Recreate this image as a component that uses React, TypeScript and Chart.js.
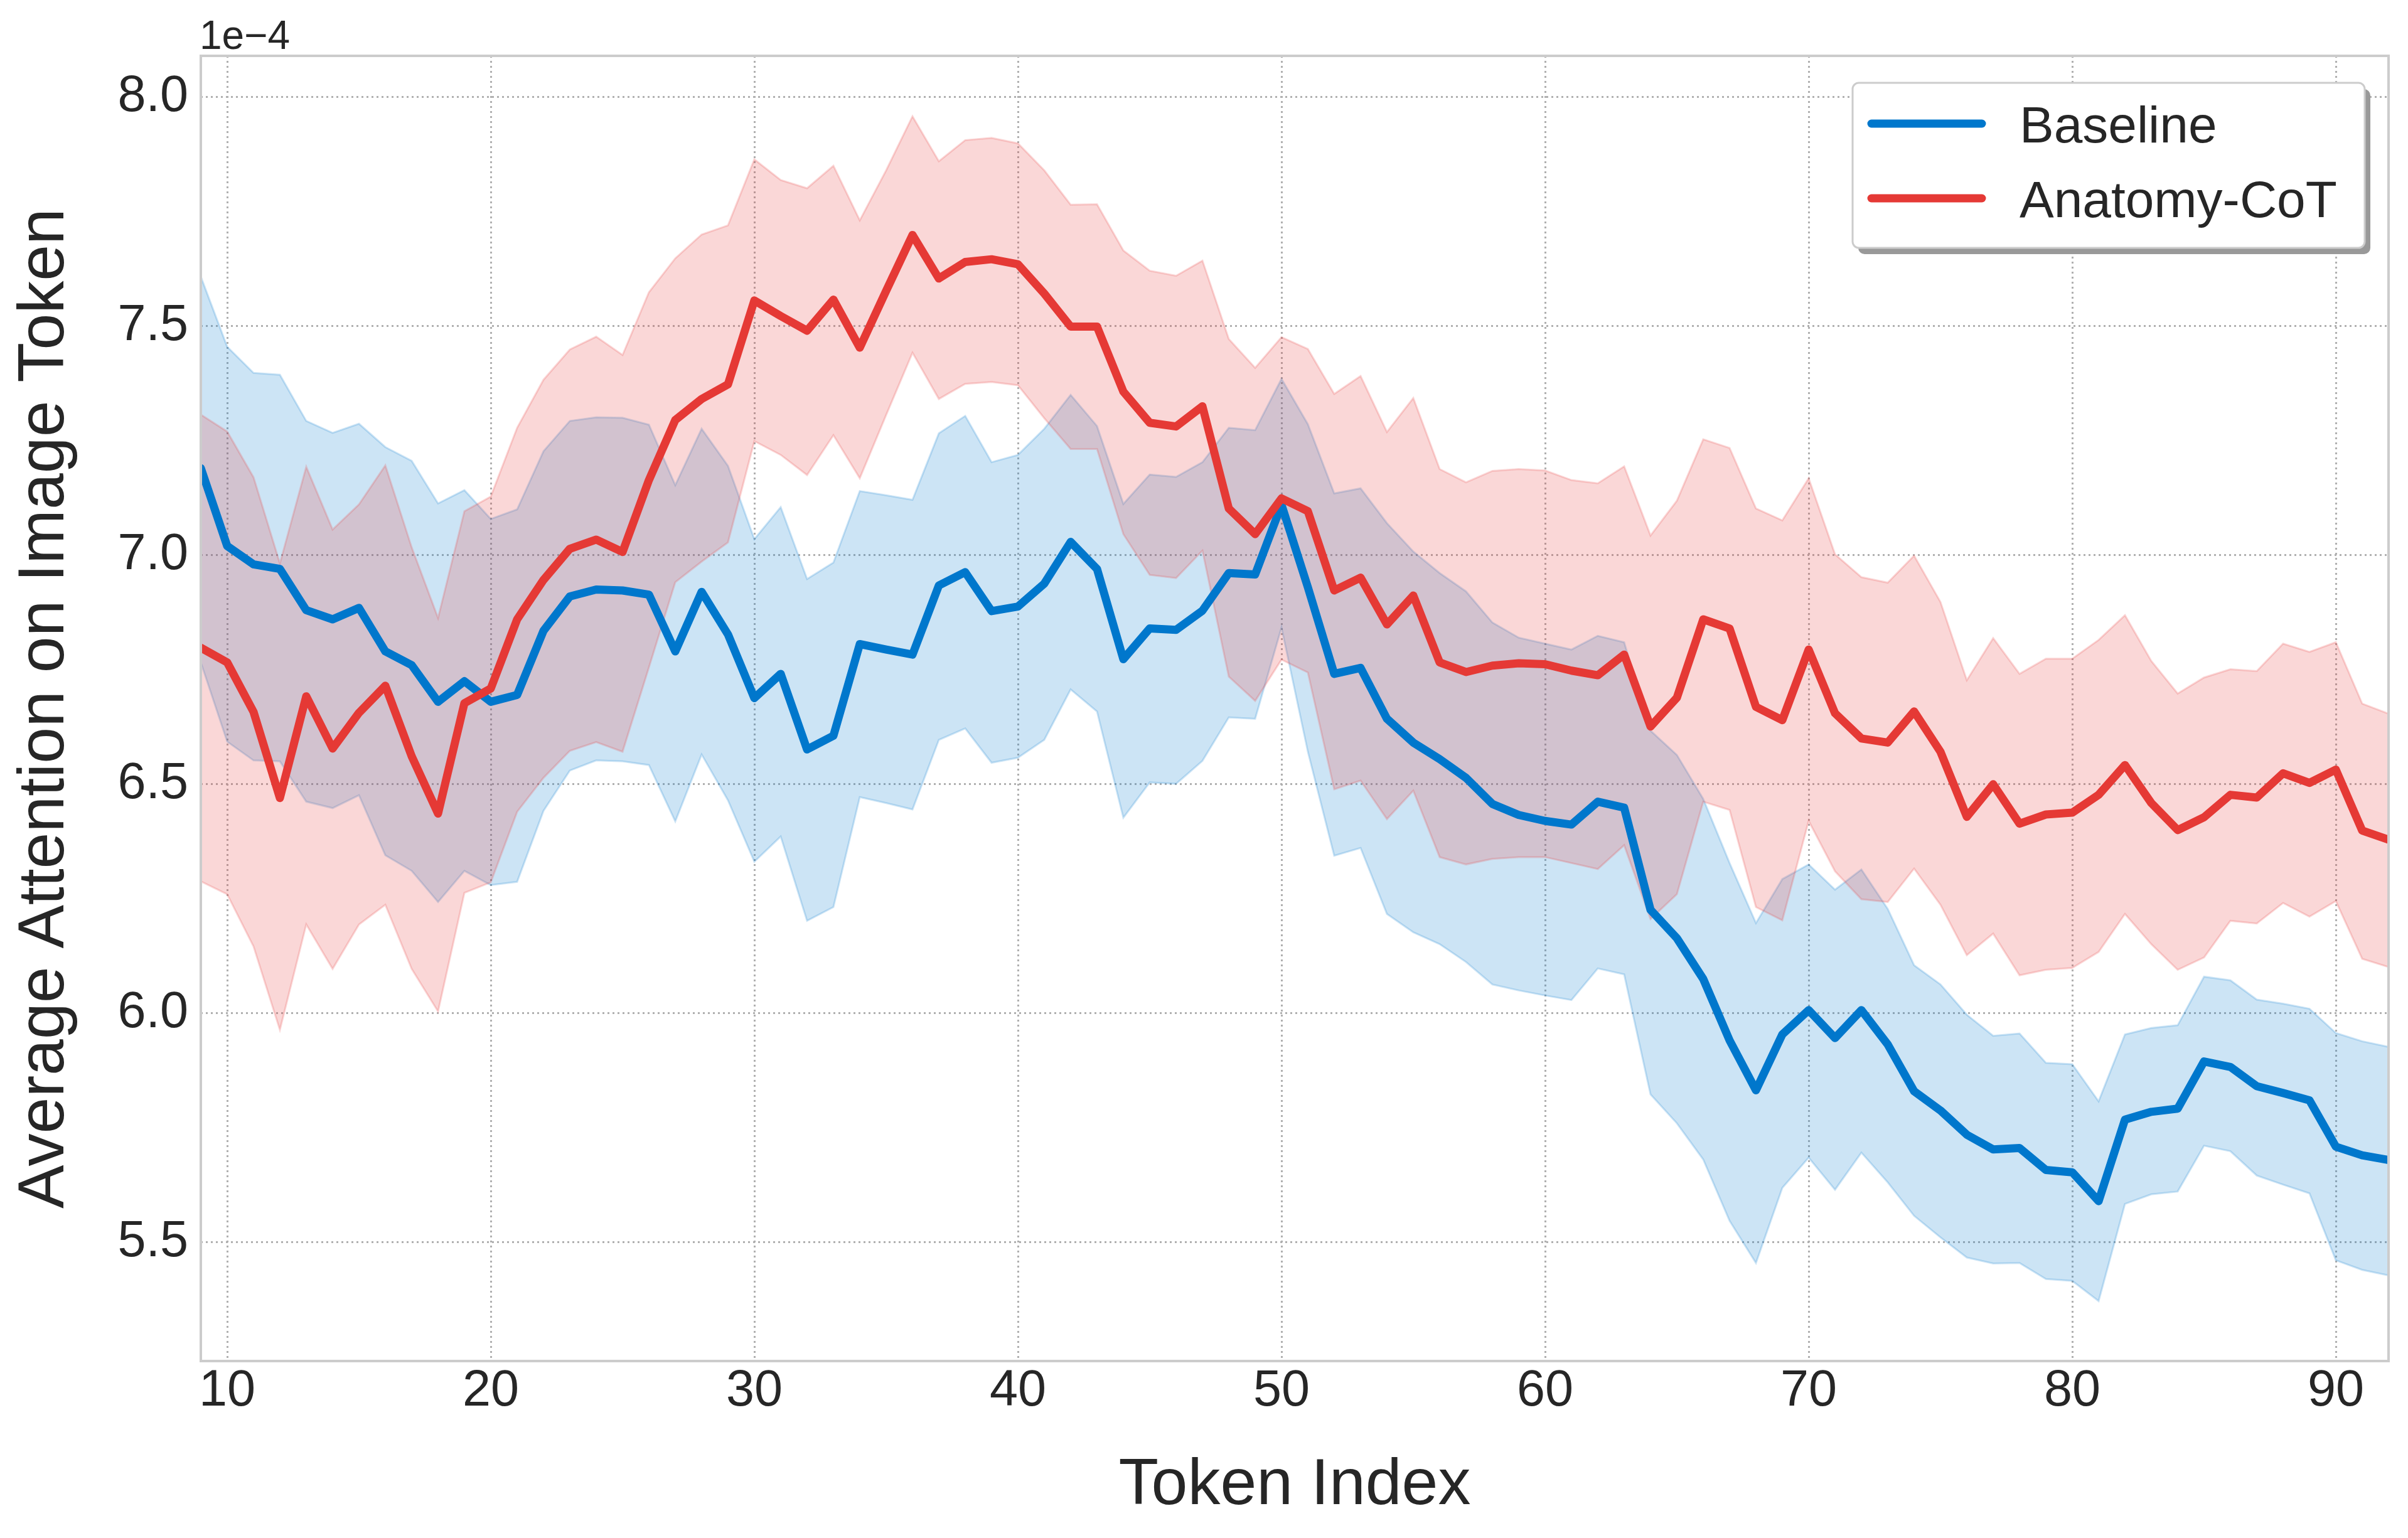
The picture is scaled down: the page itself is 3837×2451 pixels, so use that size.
import React, { useEffect, useRef } from "react";
import { Chart, registerables } from "chart.js";

Chart.register(...registerables);

const W = 3837;
const H = 2451;

// token positions along x
const TOKENS = [
  9, 10, 11, 12, 13, 14, 15, 16, 17, 18, 19, 20, 21, 22, 23, 24, 25, 26, 27, 28,
  29, 30, 31, 32, 33, 34, 35, 36, 37, 38, 39, 40, 41, 42, 43, 44, 45, 46, 47, 48,
  49, 50, 51, 52, 53, 54, 55, 56, 57, 58, 59, 60, 61, 62, 63, 64, 65, 66, 67, 68,
  69, 70, 71, 72, 73, 74, 75, 76, 77, 78, 79, 80, 81, 82, 83, 84, 85, 86, 87, 88,
  89, 90, 91, 92,
];

// values are in units of 1e-4
const BASELINE_MEAN = [
  7.19, 7.02, 6.98, 6.97, 6.88, 6.86, 6.885, 6.79, 6.76, 6.68, 6.725, 6.68, 6.695, 6.835, 6.91, 6.925, 6.923, 6.914, 6.79, 6.92,
  6.827, 6.688, 6.741, 6.576, 6.606, 6.806, 6.794, 6.783, 6.934, 6.963, 6.878, 6.888, 6.938, 7.029, 6.97, 6.773, 6.84, 6.837, 6.879, 6.961,
  6.958, 7.11, 6.93, 6.741, 6.754, 6.643, 6.591, 6.555, 6.514, 6.457, 6.433, 6.42, 6.412, 6.462, 6.449, 6.226, 6.164, 6.075, 5.941, 5.832,
  5.954, 6.007, 5.946, 6.007, 5.932, 5.83, 5.788, 5.735, 5.703, 5.706, 5.658, 5.653, 5.59, 5.768, 5.785, 5.792, 5.895, 5.883, 5.841, 5.826,
  5.81, 5.709, 5.69, 5.68,
];
const BASELINE_UPPER = [
  7.608, 7.455, 7.398, 7.394, 7.293, 7.267, 7.287, 7.236, 7.206, 7.113, 7.142, 7.079, 7.1, 7.227, 7.293, 7.301, 7.3, 7.285, 7.153, 7.276,
  7.195, 7.035, 7.105, 6.948, 6.984, 7.14, 7.131, 7.121, 7.266, 7.304, 7.203, 7.219, 7.276, 7.35, 7.282, 7.112, 7.176, 7.171, 7.203, 7.278,
  7.273, 7.385, 7.286, 7.135, 7.146, 7.07, 7.008, 6.961, 6.921, 6.853, 6.82, 6.807, 6.794, 6.824, 6.81, 6.617, 6.564, 6.468, 6.328, 6.197,
  6.293, 6.325, 6.27, 6.314, 6.228, 6.105, 6.063, 5.997, 5.951, 5.956, 5.892, 5.889, 5.808, 5.954, 5.968, 5.974, 6.08, 6.072, 6.03, 6.021,
  6.01, 5.957, 5.939, 5.927,
];
const BASELINE_LOWER = [
  6.766, 6.593, 6.552, 6.55, 6.462, 6.448, 6.476, 6.345, 6.311, 6.243, 6.311, 6.28, 6.287, 6.442, 6.53, 6.552, 6.55, 6.542, 6.419, 6.565,
  6.465, 6.331, 6.386, 6.202, 6.232, 6.472, 6.459, 6.445, 6.597, 6.622, 6.547, 6.558, 6.597, 6.707, 6.659, 6.427, 6.504, 6.501, 6.551, 6.646,
  6.643, 6.842, 6.571, 6.344, 6.361, 6.217, 6.177, 6.151, 6.112, 6.063, 6.05, 6.039, 6.029, 6.098, 6.085, 5.823, 5.76, 5.681, 5.547, 5.455,
  5.619, 5.685, 5.615, 5.696, 5.631, 5.558, 5.511, 5.467, 5.454, 5.455, 5.42, 5.416, 5.372, 5.584, 5.605, 5.611, 5.711, 5.699, 5.646, 5.626,
  5.607, 5.461, 5.44, 5.428,
];

const COT_MEAN = [
  6.798, 6.766, 6.658, 6.47, 6.692, 6.578, 6.656, 6.715, 6.561, 6.436, 6.677, 6.709, 6.86, 6.946, 7.014, 7.034, 7.007, 7.164, 7.295, 7.341,
  7.373, 7.556, 7.522, 7.49, 7.558, 7.453, 7.577, 7.699, 7.604, 7.64, 7.646, 7.635, 7.571, 7.499, 7.499, 7.357, 7.289, 7.281, 7.325, 7.102,
  7.046, 7.124, 7.096, 6.923, 6.951, 6.849, 6.912, 6.766, 6.745, 6.759, 6.764, 6.762, 6.748, 6.738, 6.783, 6.626, 6.689, 6.86, 6.84, 6.669,
  6.64, 6.794, 6.655, 6.6, 6.591, 6.659, 6.571, 6.429, 6.5, 6.414, 6.434, 6.438, 6.477, 6.542, 6.459, 6.4, 6.428, 6.477, 6.471, 6.524,
  6.503, 6.532, 6.399, 6.379,
];
const COT_UPPER = [
  7.307, 7.27, 7.17, 6.982, 7.193, 7.056, 7.111, 7.196, 7.017, 6.863, 7.096, 7.128, 7.278, 7.383, 7.449, 7.477, 7.437, 7.574, 7.648, 7.7,
  7.72, 7.864, 7.819, 7.801, 7.85, 7.731, 7.84, 7.958, 7.86, 7.906, 7.911, 7.899, 7.84, 7.765, 7.766, 7.665, 7.621, 7.61, 7.643, 7.472,
  7.409, 7.476, 7.45, 7.352, 7.391, 7.269, 7.343, 7.188, 7.159, 7.184, 7.188, 7.185, 7.164, 7.157, 7.194, 7.043, 7.119, 7.253, 7.234, 7.102,
  7.076, 7.168, 7.002, 6.952, 6.94, 6.999, 6.898, 6.727, 6.819, 6.741, 6.774, 6.774, 6.815, 6.869, 6.769, 6.698, 6.733, 6.751, 6.747, 6.807,
  6.789, 6.81, 6.676, 6.654,
];
const COT_LOWER = [
  6.288, 6.26, 6.146, 5.964, 6.194, 6.097, 6.194, 6.237, 6.097, 6.004, 6.263, 6.286, 6.44, 6.514, 6.573, 6.592, 6.571, 6.755, 6.941, 6.986,
  7.028, 7.249, 7.219, 7.175, 7.262, 7.168, 7.306, 7.442, 7.341, 7.374, 7.378, 7.371, 7.299, 7.232, 7.232, 7.046, 6.957, 6.95, 7.01, 6.735,
  6.682, 6.772, 6.744, 6.489, 6.508, 6.424, 6.486, 6.341, 6.325, 6.337, 6.341, 6.341, 6.328, 6.315, 6.367, 6.206, 6.26, 6.462, 6.444, 6.232,
  6.203, 6.42, 6.31, 6.249, 6.243, 6.316, 6.237, 6.127, 6.174, 6.083, 6.095, 6.099, 6.134, 6.217, 6.151, 6.095, 6.122, 6.202, 6.196, 6.241,
  6.211, 6.245, 6.119, 6.101,
];

const SERIES_LABELS = ["Baseline", "Anatomy-CoT"];
const SERIES_COLORS = ["#0077cc", "#e53935"];
const SERIES_BANDS = ["rgba(0, 119, 204, 0.2)", "rgba(229, 57, 53, 0.2)"];
const X_TITLE = "Token Index";
const Y_TITLE = "Average Attention on Image Token";
const Y_OFFSET_LABEL = "1e\u22124";

const FONT = "Liberation Sans";
const TEXT = "#262626";

function pts(ys: number[]) {
  return ys.map((y, i) => ({ x: TOKENS[i], y }));
}

const decorations = {
  id: "decorations",
  afterDatasetsDraw(chart: Chart) {
    const { ctx, chartArea: a } = chart;
    ctx.save();
    ctx.strokeStyle = "#cccccc";
    ctx.lineWidth = 4;
    ctx.strokeRect(a.left, a.top, a.right - a.left, a.bottom - a.top);
    ctx.restore();
  },
  afterDraw(chart: Chart) {
    const { ctx, chartArea: a } = chart;
    ctx.save();
    // offset text above the y axis
    ctx.fillStyle = TEXT;
    ctx.font = `64px "${FONT}"`;
    ctx.textAlign = "left";
    ctx.textBaseline = "alphabetic";
    ctx.fillText(Y_OFFSET_LABEL, a.left - 2, a.top - 11);

    // legend box with drop shadow
    const bw = 816;
    const bh = 263;
    const bx = a.right - 38 - bw;
    const by = a.top + 43;
    ctx.fillStyle = "#999999";
    ctx.beginPath();
    ctx.roundRect(bx + 9, by + 10, bw, bh, 10);
    ctx.fill();
    ctx.fillStyle = "#ffffff";
    ctx.strokeStyle = "#cccccc";
    ctx.lineWidth = 3;
    ctx.beginPath();
    ctx.roundRect(bx, by, bw, bh, 10);
    ctx.fill();
    ctx.stroke();

    ctx.font = `82px "${FONT}"`;
    SERIES_LABELS.forEach((label, k) => {
      const ly = by + 65 + k * 119;
      ctx.strokeStyle = SERIES_COLORS[k];
      ctx.lineWidth = 13;
      ctx.lineCap = "round";
      ctx.beginPath();
      ctx.moveTo(bx + 30, ly);
      ctx.lineTo(bx + 206, ly);
      ctx.stroke();
      ctx.fillStyle = TEXT;
      ctx.fillText(label, bx + 266, ly + 30);
    });
    ctx.restore();
  },
};

export default function App() {
  const canvasRef = useRef<HTMLCanvasElement>(null);

  useEffect(() => {
    if (!canvasRef.current) return;

    const line = (k: number, ys: number[], order: number) => ({
      label: SERIES_LABELS[k],
      data: pts(ys),
      borderColor: SERIES_COLORS[k],
      borderWidth: 13,
      borderJoinStyle: "round" as const,
      borderCapStyle: "round" as const,
      pointRadius: 0,
      fill: false,
      order,
    });
    const band = (k: number, ys: number[], order: number, fill: any) => ({
      label: SERIES_LABELS[k] + " band",
      data: pts(ys),
      borderColor: SERIES_BANDS[k],
      backgroundColor: SERIES_BANDS[k],
      borderWidth: 3,
      pointRadius: 0,
      fill,
      order,
    });

    const chart = new Chart(canvasRef.current, {
      type: "line",
      data: {
        datasets: [
          line(1, COT_MEAN, 0),
          line(0, BASELINE_MEAN, 1),
          band(1, COT_UPPER, 2, "+1"),
          band(1, COT_LOWER, 2, false),
          band(0, BASELINE_UPPER, 3, "+1"),
          band(0, BASELINE_LOWER, 3, false),
        ] as any,
      },
      options: {
        responsive: false,
        maintainAspectRatio: false,
        devicePixelRatio: 1,
        animation: false,
        layout: { padding: { left: 0, top: 89, right: 31, bottom: 0 } },
        plugins: {
          legend: { display: false },
          tooltip: { enabled: false },
        },
        scales: {
          x: {
            type: "linear",
            min: 9,
            max: 92,
            afterFit: (s: any) => {
              s.height = 282;
            },
            ticks: {
              stepSize: 10,
              includeBounds: false,
              autoSkip: false,
              maxRotation: 0,
              padding: 0,
              color: TEXT,
              font: { family: FONT, size: 81, lineHeight: 1.2 },
              callback: (v: any) => String(v),
            },
            grid: { color: "#b0b0b0", lineWidth: 3, drawTicks: false },
            border: { display: false, dash: [3, 5] },
            title: {
              display: true,
              text: X_TITLE,
              color: TEXT,
              font: { family: FONT, size: 104, lineHeight: 1 },
              padding: { top: 0, bottom: 31 },
            },
          },
          y: {
            type: "linear",
            min: 5.241,
            max: 8.09,
            afterFit: (s: any) => {
              s.width = 320;
            },
            ticks: {
              stepSize: 0.5,
              includeBounds: false,
              padding: 20,
              color: TEXT,
              font: { family: FONT, size: 81, lineHeight: 1.2 },
              callback: (v: any) => Number(v).toFixed(1),
            },
            grid: { color: "#b0b0b0", lineWidth: 3, drawTicks: false },
            border: { display: false, dash: [3, 5] },
            title: {
              display: true,
              text: Y_TITLE,
              color: TEXT,
              font: { family: FONT, size: 104, lineHeight: 1 },
              padding: { top: 20, bottom: 0 },
            },
          },
        },
      },
      plugins: [decorations],
    });

    return () => chart.destroy();
  }, []);

  return (
    <div style={{ position: "absolute", left: 0, top: 0, width: W, height: H, background: "#ffffff" }}>
      <canvas ref={canvasRef} width={W} height={H} style={{ width: W, height: H, display: "block" }} />
    </div>
  );
}
